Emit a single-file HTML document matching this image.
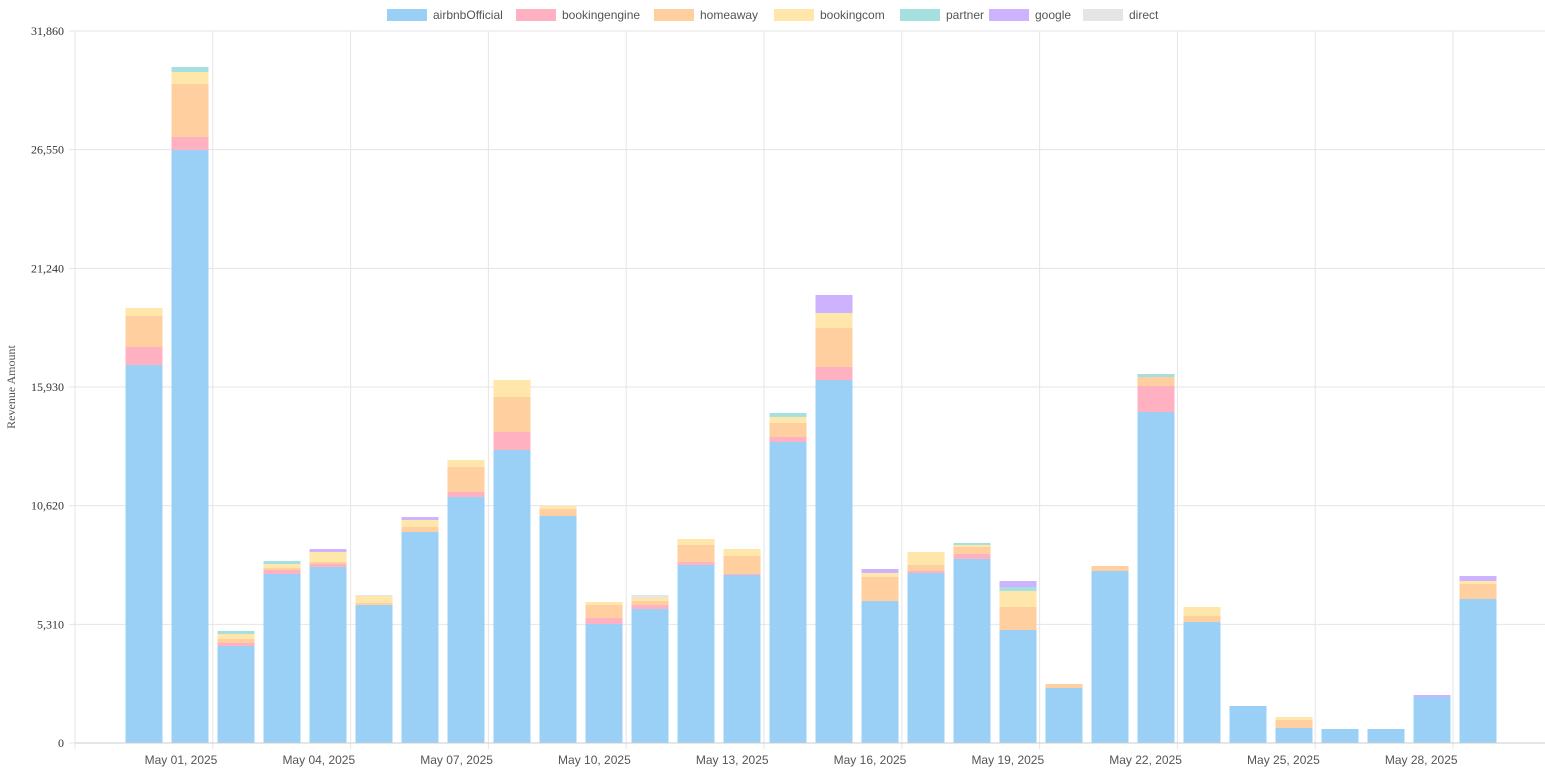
<!DOCTYPE html>
<html><head><meta charset="utf-8"><style>
html,body{margin:0;padding:0;background:#fff;}
svg{display:block;}
</style></head><body>
<svg id="chart" width="1545" height="772"></svg>
<script>
const days = ["Apr 30","May 01","May 02","May 03","May 04","May 05","May 06","May 07","May 08","May 09","May 10","May 11","May 12","May 13","May 14","May 15","May 16","May 17","May 18","May 19","May 20","May 21","May 22","May 23","May 24","May 25","May 26","May 27","May 28","May 29"];
const airbnbOfficial = [16915,26537,4341,7563,7876,6176,9442,11009,13112,10158,5325,5997,7966,7518,13470,16244,6355,7608,8234,5057,2461,7697,14812,5415,1656,671,626,626,2058,6444];
const bookingengine  = [805,581,134,179,134,0,0,224,805,0,268,179,134,45,224,582,0,90,224,0,0,0,1163,0,0,0,0,0,0,0];
const homeaway       = [1388,2372,179,90,90,90,224,1119,1566,313,582,179,761,805,627,1745,1074,268,313,1029,179,224,403,268,0,358,0,0,0,671];
const bookingcom     = [358,537,224,179,447,313,313,313,761,134,134,134,268,313,268,671,179,582,90,716,0,0,0,403,0,134,0,0,0,134];
const partner        = [0,224,134,134,0,0,0,0,0,0,0,0,0,0,179,0,0,0,90,179,0,0,134,0,0,0,0,0,0,0];
const google         = [0,0,0,0,134,0,134,0,0,0,0,0,0,0,0,806,179,0,0,268,0,0,0,0,0,0,0,0,90,224];
const direct         = [0,0,0,0,0,45,0,0,0,0,0,134,0,0,0,0,0,0,0,0,0,0,0,0,0,0,0,0,0,0];
const yTicks = [0,5310,10620,15930,21240,26550,31860];
const xTickLabels = ["May 01, 2025","May 04, 2025","May 07, 2025","May 10, 2025","May 13, 2025","May 16, 2025","May 19, 2025","May 22, 2025","May 25, 2025","May 28, 2025"];

const svg = document.getElementById('chart');
const NS = 'http://www.w3.org/2000/svg';
const L = 75, R = 1545, T = 31, B = 743, yMax = 31860;
const yScale = v => B - v * (B - T) / yMax;
const barCenter = i => 144 + 46 * i;
const barW = 37;
function mk(tag, attrs){const e=document.createElementNS(NS,tag);for(const k in attrs)e.setAttribute(k,attrs[k]);svg.appendChild(e);return e;}

// gridlines
for (let k = 0; k <= 10; k++) {
  const x = L + 137.8 * k;
  const g = mk('line',{x1:x,x2:x,y1:T,y2:B+6,stroke:'#e5e5e5','stroke-width':1});
  
  
}
yTicks.forEach(v => {
  const y = yScale(v);
  const g = mk('line',{x1:L-6,x2:R,y1:y,y2:y,stroke:'#e5e5e5','stroke-width':1});
  
  
  const t = mk('text',{x:L-11,y:y+4,'text-anchor':'end','font-family':'Liberation Serif, serif','font-size':12,fill:'#333'});
  t.textContent = v.toLocaleString('en-US');
  
  
});
xTickLabels.forEach((s,k) => {
  const t = mk('text',{x:181 + 137.8*k,y:764,'text-anchor':'middle','font-family':'Liberation Sans, sans-serif','font-size':12,fill:'#555'});
  t.textContent = s;
  
  
});
const yt = mk('text',{x:0,y:0,transform:'translate(15,387) rotate(-90)','text-anchor':'middle','font-family':'Liberation Serif, serif','font-size':12,fill:'#555'});
yt.textContent = 'Revenue Amount';



const series = [
  ['airbnbOfficial', airbnbOfficial, '#9ad0f5'],
  ['bookingengine', bookingengine, '#ffb1c1'],
  ['homeaway', homeaway, '#ffcf9f'],
  ['bookingcom', bookingcom, '#ffe6aa'],
  ['partner', partner, '#a5dfdf'],
  ['google', google, '#ccb2ff'],
  ['direct', direct, '#e4e5e7']
];
days.forEach((d,i) => {
  let acc = 0;
  series.forEach(([name, vals, col]) => {
    const v = vals[i];
    if (!v) return;
    const y0 = yScale(acc), y1 = yScale(acc + v);
    acc += v;
    const r = mk('rect',{x:barCenter(i)-barW/2,y:y1,width:barW,height:y0-y1,fill:col});
    
    
  });
});
// axes
const ax = mk('line',{x1:L,x2:R,y1:B,y2:B,stroke:'#ccc'});



// legend
const legX = [387,516,654,774,900,989,1083];
series.forEach(([name,,col],k) => {
  const r = mk('rect',{x:legX[k],y:9,width:40,height:12,fill:col});
  
  
  const t = mk('text',{x:legX[k]+46,y:19,'font-family':'Liberation Sans, sans-serif','font-size':12,fill:'#555'});
  t.textContent = name;
  
  
});
</script>
</body></html>
